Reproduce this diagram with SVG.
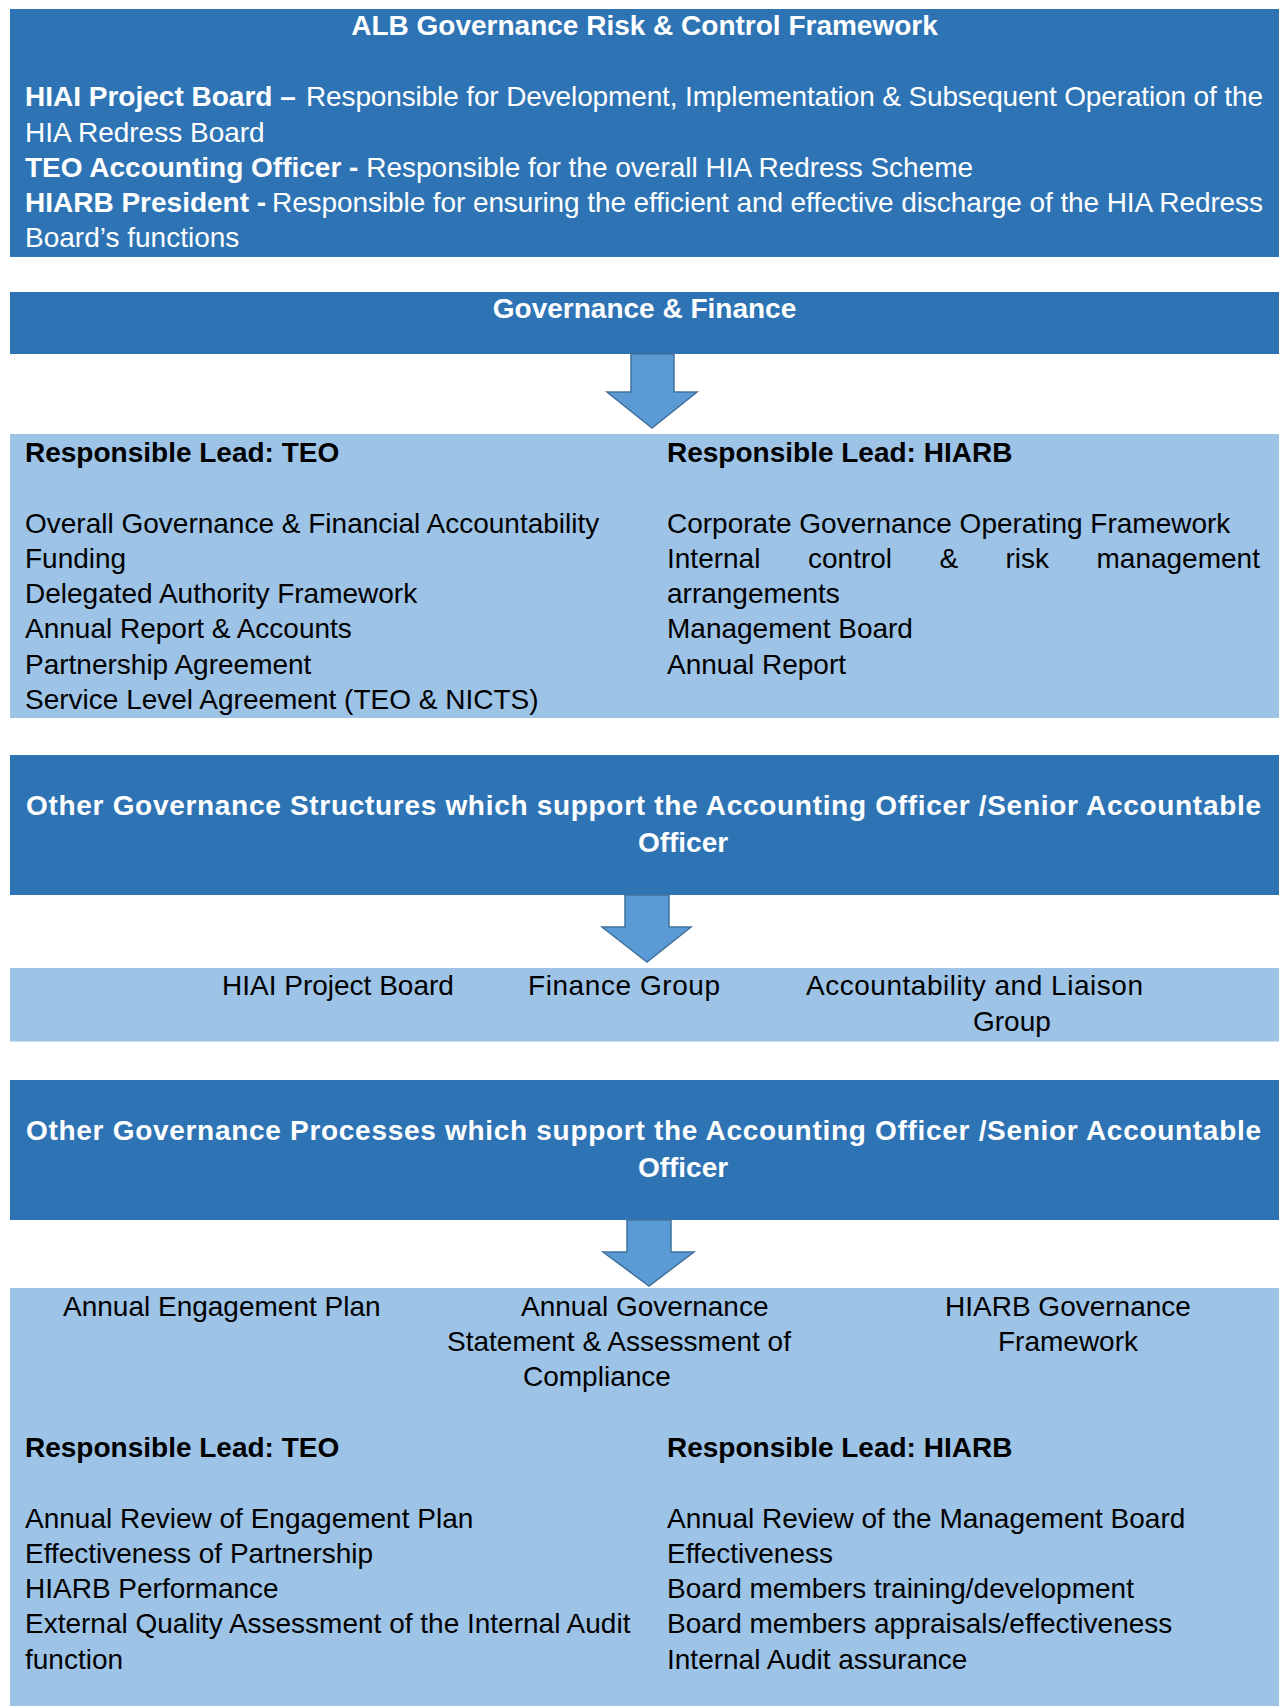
<svg xmlns="http://www.w3.org/2000/svg" width="1282" height="1706" viewBox="0 0 1282 1706">
<style>
.dark{fill:#2E74B5}
.light{fill:#9DC3E6}
.arrow{fill:#5B9BD5;stroke:#41719C;stroke-width:1.5;stroke-linejoin:miter}
text{font-family:"Liberation Sans",Arial,sans-serif;font-size:28px}
.w{fill:#FFFFFF}
.k{fill:#000000}
.b{font-weight:bold}
.c{text-anchor:middle}
</style>
<rect width="1282" height="1706" fill="#FFFFFF"/>
<g id="framework">
<rect class="dark" x="10" y="9" width="1269" height="248"/>
<text class="w b c" x="644.5" y="35">ALB Governance Risk &amp; Control Framework</text>
<text class="w b" x="25" y="106">HIAI Project Board –</text>
<text class="w" x="306" y="106" textLength="957" lengthAdjust="spacing">Responsible for Development, Implementation &amp; Subsequent Operation of the</text>
<text class="w" x="25" y="142">HIA Redress Board</text>
<text class="w" x="25" y="177"><tspan class="b">TEO Accounting Officer -</tspan> Responsible for the overall HIA Redress Scheme</text>
<text class="w b" x="25" y="212">HIARB President -</text>
<text class="w" x="272" y="212" textLength="991" lengthAdjust="spacing">Responsible for ensuring the efficient and effective discharge of the HIA Redress</text>
<text class="w" x="25" y="247">Board’s functions</text>
</g>
<g id="governance-finance">
<rect class="dark" x="10" y="292" width="1269" height="62"/>
<text class="w b c" x="644.5" y="318">Governance &amp; Finance</text>
</g>
<g id="leads-1">
<rect class="light" x="10" y="434" width="1269" height="284"/>
<text class="k b" x="25" y="462">Responsible Lead: TEO</text>
<text class="k b" x="667" y="462">Responsible Lead: HIARB</text>
<text class="k" x="25" y="532.5">Overall Governance &amp; Financial Accountability</text>
<text class="k" x="25" y="567.8">Funding</text>
<text class="k" x="25" y="603.1">Delegated Authority Framework</text>
<text class="k" x="25" y="638.4">Annual Report &amp; Accounts</text>
<text class="k" x="25" y="673.7">Partnership Agreement</text>
<text class="k" x="25" y="709">Service Level Agreement (TEO &amp; NICTS)</text>
<text class="k" x="667" y="532.5">Corporate Governance Operating Framework</text>
<text class="k" y="567.8"><tspan x="667">Internal</tspan><tspan x="808">control</tspan><tspan x="939.5">&amp;</tspan><tspan x="1005.5">risk</tspan><tspan x="1096.5">management</tspan></text>
<text class="k" x="667" y="603.1">arrangements</text>
<text class="k" x="667" y="638.4">Management Board</text>
<text class="k" x="667" y="673.7">Annual Report</text>
</g>
<g id="structures">
<rect class="dark" x="10" y="755" width="1269" height="140"/>
<text class="w b" x="26" y="815" textLength="1235" lengthAdjust="spacing">Other Governance Structures which support the Accounting Officer /Senior Accountable</text>
<text class="w b c" x="683" y="852">Officer</text>
</g>
<g id="structures-list">
<rect class="light" x="10" y="968" width="1269" height="73.5"/>
<text class="k" x="222" y="995">HIAI Project Board</text>
<text class="k" x="528" y="995" textLength="192" lengthAdjust="spacing">Finance Group</text>
<text class="k" x="806" y="995" textLength="337" lengthAdjust="spacing">Accountability and Liaison</text>
<text class="k" x="973" y="1031">Group</text>
</g>
<g id="processes">
<rect class="dark" x="10" y="1080" width="1269" height="140"/>
<text class="w b" x="26" y="1140" textLength="1235" lengthAdjust="spacing">Other Governance Processes which support the Accounting Officer /Senior Accountable</text>
<text class="w b c" x="683" y="1177">Officer</text>
</g>
<g id="processes-list">
<rect class="light" x="10" y="1288" width="1269" height="418"/>
<text class="k" x="63" y="1316">Annual Engagement Plan</text>
<text class="k" x="521" y="1316">Annual Governance</text>
<text class="k" x="447" y="1351">Statement &amp; Assessment of</text>
<text class="k" x="523" y="1386">Compliance</text>
<text class="k" x="945" y="1316">HIARB Governance</text>
<text class="k" x="998" y="1351">Framework</text>
<text class="k b" x="25" y="1457">Responsible Lead: TEO</text>
<text class="k b" x="667" y="1457">Responsible Lead: HIARB</text>
<text class="k" x="25" y="1527.5">Annual Review of Engagement Plan</text>
<text class="k" x="25" y="1562.8">Effectiveness of Partnership</text>
<text class="k" x="25" y="1598.1">HIARB Performance</text>
<text class="k" x="25" y="1633.4">External Quality Assessment of the Internal Audit</text>
<text class="k" x="25" y="1668.7">function</text>
<text class="k" x="667" y="1527.5">Annual Review of the Management Board</text>
<text class="k" x="667" y="1562.8">Effectiveness</text>
<text class="k" x="667" y="1598.1">Board members training/development</text>
<text class="k" x="667" y="1633.4">Board members appraisals/effectiveness</text>
<text class="k" x="667" y="1668.7">Internal Audit assurance</text>
</g>
<g id="connectors">
<polygon class="arrow" points="631,354 674,354 674,392 697,392 652,428 607,392 631,392"/>
<polygon class="arrow" points="625,895 669,895 669,927 691,927 647,962 602,927 625,927"/>
<polygon class="arrow" points="627,1220 671,1220 671,1252 694,1252 649,1286 603,1252 627,1252"/>
</g>
</svg>
